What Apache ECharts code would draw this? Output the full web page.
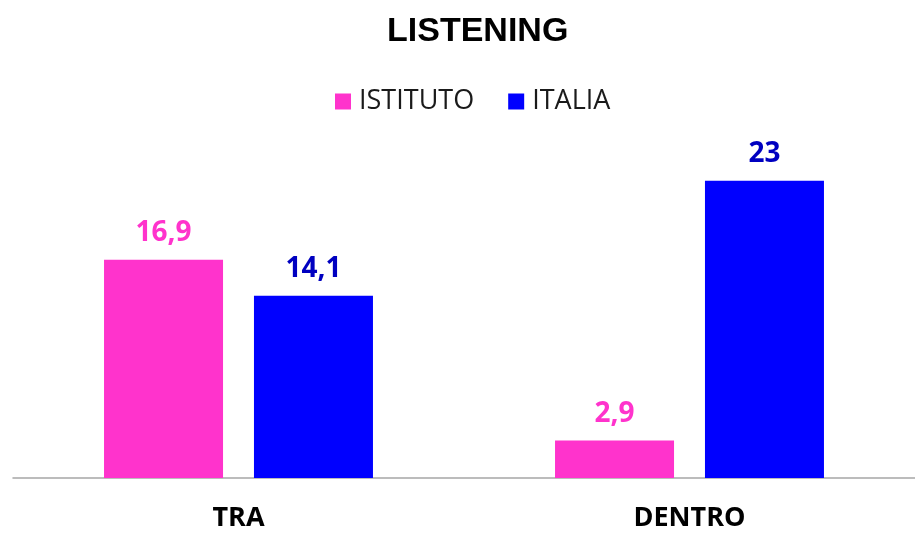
<!DOCTYPE html>
<html>
<head>
<meta charset="utf-8">
<script src="https://cdn.jsdelivr.net/npm/echarts@6/dist/echarts.min.js"></script>
<style>
  html, body { margin: 0; padding: 0; background: #fff; }
  #chart { width: 915px; height: 535px; }
</style>
</head>
<body>
<div id="chart"></div>
<script>
// dati del grafico
var categories = ['TRA', 'DENTRO'];
var istituto = [16.9, 2.9];
var italia = [14.1, 23];

var chartDom = document.getElementById('chart');
var myChart = echarts.init(chartDom);

// virgola decimale
function fmt(p) {
  return String(p.value).replace('.', ',');
}

var option = {
  animation: false,
  textStyle: { fontFamily: 'Open Sans, Liberation Sans, sans-serif' },
  title: {
    text: 'LISTENING',
    left: 382,
    top: 10,
    textStyle: { fontSize: 34, fontWeight: 'bold', color: '#000', fontFamily: 'Liberation Sans, sans-serif' }
  },
  legend: {
    top: 83,
    left: 330,
    itemWidth: 16,
    itemHeight: 16,
    itemGap: 34,
    icon: 'rect',
    textStyle: { fontSize: 27, color: '#1a1a1a', fontFamily: 'Open Sans, sans-serif', padding: [0, 0, 0, 3] },
    data: ['ISTITUTO', 'ITALIA']
  },
  grid: {
    left: 13,
    right: 0,
    top: 155,
    bottom: 57
  },
  xAxis: {
    type: 'category',
    data: categories,
    axisTick: { show: false },
    axisLine: { lineStyle: { color: '#a6a6a6', width: 1.5 } },
    axisLabel: {
      margin: 27,
      fontSize: 27,
      fontWeight: 'bold',
      color: '#000',
      fontFamily: 'Open Sans, sans-serif'
    }
  },
  yAxis: {
    type: 'value',
    min: 0,
    max: 25,
    show: false
  },
  series: [
    {
      name: 'ISTITUTO',
      type: 'bar',
      data: istituto,
      barWidth: 119,
      barGap: '26%',
      itemStyle: { color: '#ff33cc' },
      label: {
        show: true,
        position: 'top',
        distance: 13,
        formatter: fmt,
        fontSize: 28,
        fontWeight: 'bold',
        color: '#ff33cc',
        fontFamily: 'Open Sans, sans-serif'
      }
    },
    {
      name: 'ITALIA',
      type: 'bar',
      data: italia,
      barWidth: 119,
      itemStyle: { color: '#0000ff' },
      label: {
        show: true,
        position: 'top',
        distance: 13,
        formatter: fmt,
        fontSize: 28,
        fontWeight: 'bold',
        color: '#0000c0',
        fontFamily: 'Open Sans, sans-serif'
      }
    }
  ]
};

myChart.setOption(option);
</script>
</body>
</html>
